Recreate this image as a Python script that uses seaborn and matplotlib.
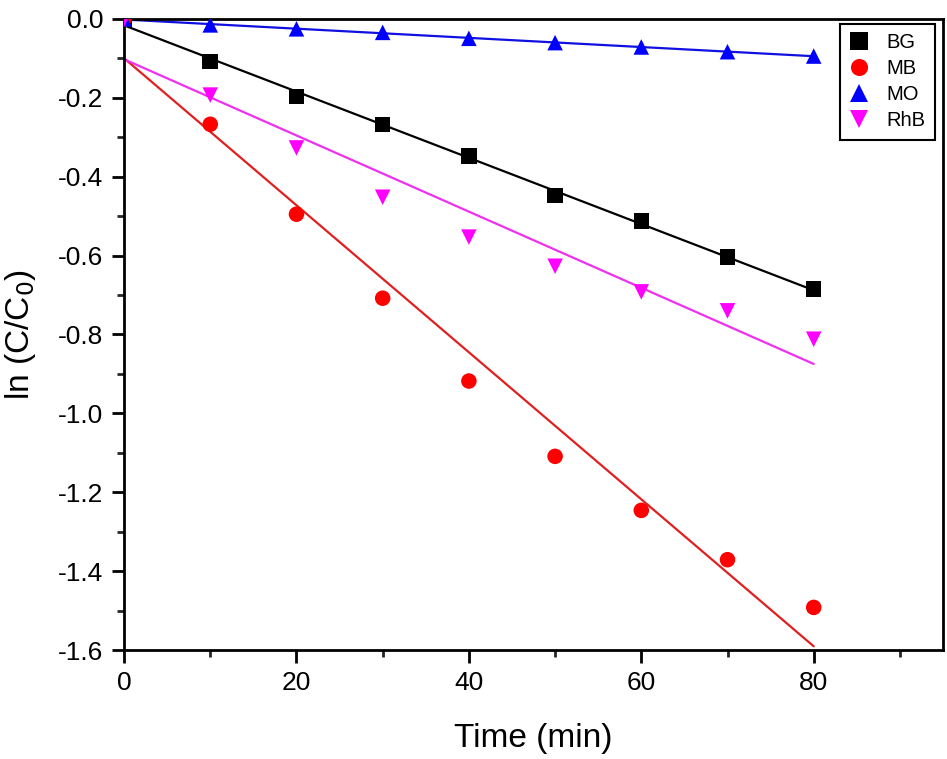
import numpy as np
import pandas as pd
import seaborn as sns
import matplotlib.pyplot as plt
from matplotlib.ticker import MultipleLocator

# Данные: время (мин) и ln(C/C0) для каждого красителя
time = [0, 10, 20, 30, 40, 50, 60, 70, 80]
bg = [0, -0.108, -0.197, -0.267, -0.348, -0.447, -0.512, -0.604, -0.685]
mb = [0, -0.267, -0.495, -0.708, -0.918, -1.109, -1.246, -1.371, -1.492]
mo = [0, -0.015, -0.025, -0.034, -0.049, -0.060, -0.071, -0.083, -0.094]
rhb = [0, -0.193, -0.327, -0.452, -0.553, -0.627, -0.692, -0.740, -0.812]

names = ['BG', 'MB', 'MO', 'RhB']
colors = {'BG': 'black', 'MB': '#ff0000', 'MO': '#0000ff', 'RhB': '#ff00ff'}
line_colors = {'BG': 'black', 'MB': '#e02020', 'MO': '#1010e0', 'RhB': '#f030f0'}
markers = {'BG': 's', 'MB': 'o', 'MO': '^', 'RhB': 'v'}

df = pd.DataFrame({'Time': time * 4,
                   'lnC': bg + mb + mo + rhb,
                   'Dye': np.repeat(names, len(time))})

sns.set_style("ticks")
plt.rcParams['font.family'] = ['Liberation Sans', 'DejaVu Sans']
plt.rcParams['text.color'] = 'black'
plt.rcParams['axes.labelcolor'] = 'black'

fig = plt.figure(figsize=(9.47, 7.59), dpi=100)
ax = fig.add_axes([0.131, 0.1436, 0.8648, 0.8314])

# Линии линейной аппроксимации
for name in names:
    sns.regplot(data=df[df['Dye'] == name], x='Time', y='lnC', scatter=False,
                ci=None, color=line_colors[name], line_kws={'lw': 1.6}, ax=ax)

# Точки
sns.scatterplot(data=df, x='Time', y='lnC', hue='Dye', style='Dye',
                palette=colors, markers=markers, s=125, linewidth=0,
                zorder=3, ax=ax)

ax.set_xlim(0, 95)
ax.set_ylim(-1.6, 0)
ax.xaxis.set_major_locator(MultipleLocator(20))
ax.xaxis.set_minor_locator(MultipleLocator(10))
ax.yaxis.set_major_locator(MultipleLocator(0.2))
ax.yaxis.set_minor_locator(MultipleLocator(0.1))
ax.set_xticks([0, 20, 40, 60, 80])
ax.tick_params(which='major', direction='out', length=9, width=2,
               labelsize=19, colors='black', pad=6)
ax.tick_params(which='minor', direction='out', length=5, width=2)
ax.yaxis.set_major_formatter(plt.FuncFormatter(lambda v, p: f'{v:.1f}'))

for sp in ax.spines.values():
    sp.set_linewidth(2)
    sp.set_color('black')

ax.set_xlabel('Time (min)', fontsize=24, labelpad=20)
ax.set_ylabel('ln (C/C$_0$)', fontsize=24, labelpad=14)

leg = ax.legend(loc='upper right', fontsize=14.5, frameon=True, fancybox=False,
                edgecolor='black', framealpha=1, borderpad=0.45,
                handlelength=1.0, handletextpad=0.9, labelspacing=0.35,
                markerscale=1.1, borderaxespad=0.2,
                bbox_to_anchor=(0.995, 0.998))
leg.get_frame().set_linewidth(1.5)

fig.savefig('out.png', dpi=100)
